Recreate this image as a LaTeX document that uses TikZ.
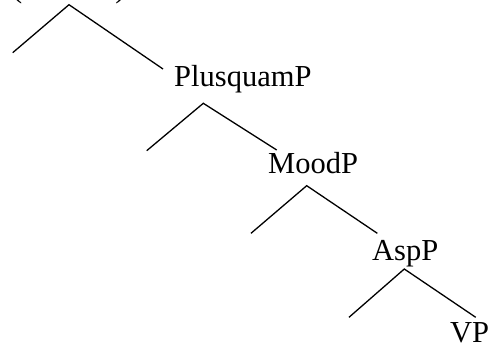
\documentclass[tikz,border=0pt]{standalone}
\usepackage{fontspec}
\setmainfont{Liberation Serif}
\begin{document}
\begin{tikzpicture}[x=1pt,y=-1pt,
  branch/.style={line width=1.3pt, line cap=butt},
  lab/.style={anchor=base west, inner sep=0pt, font=\fontsize{30.5}{36}\selectfont}]
\useasboundingbox (0,0) rectangle (490,345);
% top (cut off) label
\node[lab] (top) at (12,-2.6) {(\hspace{93pt})};
% labels
\node[lab] (plus) at (174,87) {PlusquamP};
\node[lab] (mood) at (268,173) {MoodP};
\node[lab] (asp) at (372,260) {AspP};
\node[lab] (vp) at (450,342) {VP};
% branch points
\coordinate (a0) at (69,4.7);
\coordinate (l0) at (12.7,52.7);
\coordinate (r0) at (163,69);
\coordinate (a1) at (203.3,103.3);
\coordinate (l1) at (146.7,150.7);
\coordinate (r1) at (276.7,150);
\coordinate (a2) at (306.7,185.7);
\coordinate (l2) at (251,233.3);
\coordinate (r2) at (377.3,233.3);
\coordinate (a3) at (404.3,269);
\coordinate (l3) at (349,317.3);
\coordinate (r3) at (475.7,317.3);
\draw[branch] (l0) -- (a0) -- (r0);
\draw[branch] (l1) -- (a1) -- (r1);
\draw[branch] (l2) -- (a2) -- (r2);
\draw[branch] (l3) -- (a3) -- (r3);
\end{tikzpicture}
\end{document}
